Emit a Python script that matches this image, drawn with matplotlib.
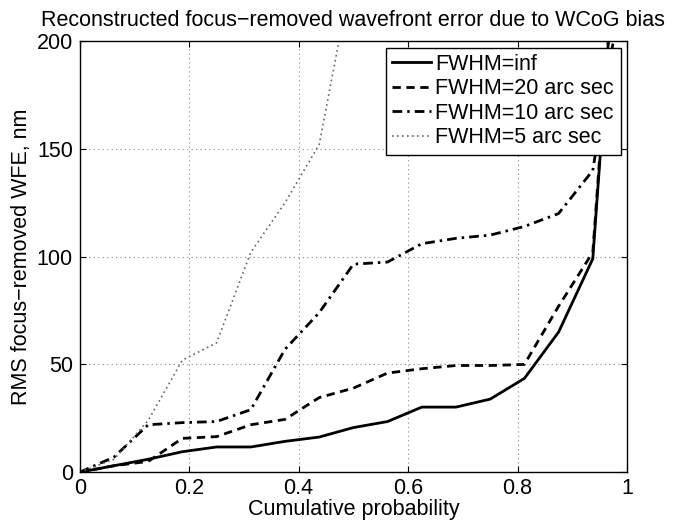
import numpy as np
import matplotlib
matplotlib.use("Agg")
import matplotlib.pyplot as plt

plt.rcParams['font.family'] = ['Liberation Sans', 'DejaVu Sans']

# cumulative probability grid (17 points)
prob = np.arange(17) / 16.0

# RMS focus-removed WFE, nm
wfe_inf = [0, 3, 6, 9.5, 11.7, 11.7, 14.3, 16.3, 20.7, 23.5, 30.2, 30.2, 33.9, 43.5, 65, 99, 320]
wfe_20 = [0, 3, 5, 15.7, 16.5, 22, 24.5, 34.6, 39, 46, 48, 49.5, 49.5, 50, 77, 102, 320]
wfe_10 = [0, 7, 22, 23, 23.5, 29, 57, 74, 96.5, 97.5, 106, 108.5, 110, 114, 120, 140, 240]
wfe_5 = [0, 6, 24, 52, 60, 102, 125, 152, 235]

labels = ['FWHM=inf', 'FWHM=20 arc sec', 'FWHM=10 arc sec', 'FWHM=5 arc sec']

fs = 15.5
fig = plt.figure(figsize=(6.76, 5.27), dpi=100)
ax = fig.add_axes([0.118, 0.104, 0.8095, 0.818])

ax.plot(prob, wfe_inf, color='black', lw=2, ls='-', label=labels[0])
ax.plot(prob, wfe_20, color='black', lw=2, ls=(0, (3, 2)), label=labels[1])
ax.plot(prob, wfe_10, color='black', lw=2, ls=(0, (3.5, 1.8, 0.9, 1.8)), label=labels[2])
ax.plot(prob[:len(wfe_5)], wfe_5, color='#666666', lw=1.2, ls=(0, (1, 2)), label=labels[3])

ax.set_xlim(0, 1)
ax.set_ylim(0, 200)
ax.set_xticks([0, 0.2, 0.4, 0.6, 0.8, 1])
ax.set_xticklabels(['0', '0.2', '0.4', '0.6', '0.8', '1'])
ax.set_yticks([0, 50, 100, 150, 200])
ax.tick_params(direction='in', top=True, right=True, length=4, labelsize=fs)
ax.tick_params(axis='x', pad=4)
ax.tick_params(axis='y', pad=5)
ax.grid(True, color='#888888', ls=(0, (1, 3)), lw=0.8)
for s in ax.spines.values():
    s.set_linewidth(1)

ax.set_xlabel('Cumulative probability', fontsize=fs, labelpad=0)
ax.set_ylabel('RMS focus\u2212removed WFE, nm', fontsize=fs, labelpad=3)
ax.set_title('Reconstructed focus\u2212removed wavefront error due to WCoG bias',
             fontsize=fs, pad=11)

leg = ax.legend(loc='upper right', fontsize=fs, fancybox=False, framealpha=1,
                edgecolor='black', handlelength=1.8, handletextpad=0.2,
                labelspacing=0.16, borderpad=0.3, borderaxespad=0.3)
leg.get_frame().set_linewidth(1)

fig.savefig('out.png', dpi=100)
